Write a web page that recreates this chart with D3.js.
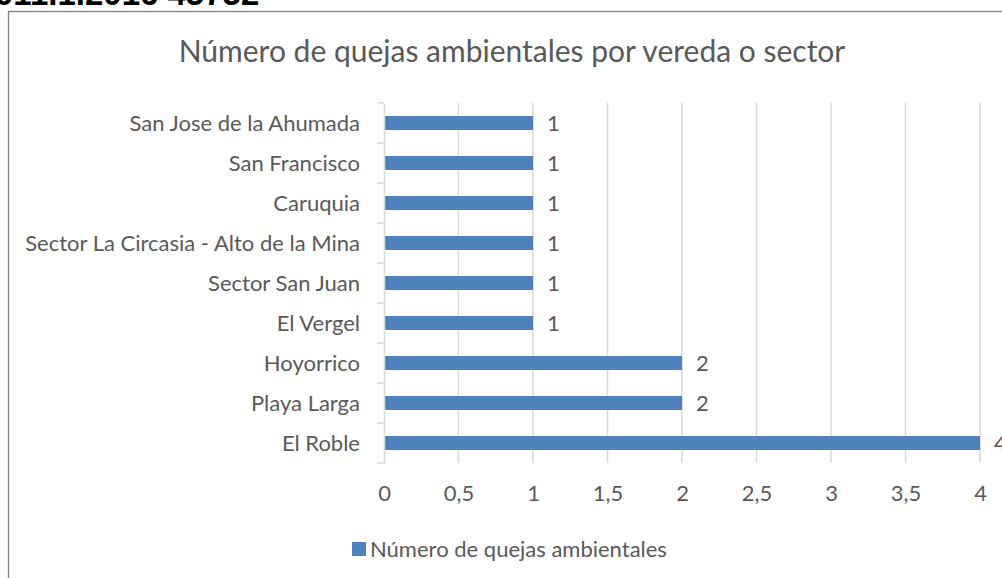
<!DOCTYPE html>
<html>
<head>
<meta charset="utf-8">
<script src="https://cdn.jsdelivr.net/npm/d3@7"></script>
<style>
  body { margin: 0; background: #fff; }
  svg { display: block; }
  text { font-family: Lato, "Open Sans", sans-serif; fill: #595959; }
</style>
</head>
<body>
<svg id="chart" width="1002" height="578"></svg>
<script>
// data (top to bottom)
var categories = ["San Jose de la Ahumada", "San Francisco", "Caruquia",
  "Sector La Circasia - Alto de la Mina", "Sector San Juan", "El Vergel",
  "Hoyorrico", "Playa Larga", "El Roble"];
var values = [1, 1, 1, 1, 1, 1, 2, 2, 4];
var xTicks = [0, 0.5, 1, 1.5, 2, 2.5, 3, 3.5, 4];
var seriesName = "Número de quejas ambientales";
var title = "Número de quejas ambientales por vereda o sector";

var data = categories.map(function (c, i) { return { cat: c, val: values[i] }; });

var svg = d3.select("#chart");
var labelSize = "22px";

// cut-off header from the page above the chart
svg.append("text")
  .attr("x", -5).attr("y", 5)
  .style("font-family", "Arial, 'Liberation Sans', sans-serif")
  .style("font-weight", "bold")
  .style("font-size", "33px")
  .style("fill", "#000")
  .text("011.1.2016 45752");

// chart frame
svg.append("rect")
  .attr("x", 8.5).attr("y", 11.5)
  .attr("width", 1010).attr("height", 600)
  .attr("fill", "#fff")
  .attr("stroke", "#7f7f7f")
  .attr("stroke-width", 1.3);

svg.append("text")
  .attr("x", 512).attr("y", 62)
  .attr("text-anchor", "middle")
  .style("font-size", "30px")
  .text(title);

var plotL = 384, plotR = 980, plotT = 103, plotB = 463;

var x = d3.scaleLinear().domain([0, 4]).range([plotL, plotR]);
var y = d3.scaleBand().domain(categories).range([plotT, plotB]).paddingInner(0.65).paddingOuter(0.325);

// gridlines
svg.append("g").selectAll("line")
  .data(xTicks.slice(1))
  .enter().append("line")
  .attr("x1", function (d) { return x(d); })
  .attr("x2", function (d) { return x(d); })
  .attr("y1", plotT).attr("y2", plotB)
  .attr("stroke", "#d9d9d9")
  .attr("stroke-width", 1.5);

// bars
svg.append("g").selectAll("rect")
  .data(data)
  .enter().append("rect")
  .attr("x", x(0))
  .attr("y", function (d) { return y(d.cat); })
  .attr("width", function (d) { return x(d.val) - x(0); })
  .attr("height", y.bandwidth())
  .attr("fill", "#4f81bd");

// data labels
svg.append("g").selectAll("text")
  .data(data)
  .enter().append("text")
  .attr("x", function (d) { return x(d.val) + 14; })
  .attr("y", function (d) { return y(d.cat) + y.bandwidth() / 2 + 8; })
  .style("font-size", labelSize)
  .text(function (d) { return d.val; });

// category axis
var yAxis = svg.append("g")
  .attr("transform", "translate(" + plotL + ",0)")
  .call(d3.axisLeft(y).tickSize(0).tickPadding(24));
yAxis.select(".domain").attr("stroke", "#d9d9d9").attr("stroke-width", 1.5);
yAxis.selectAll("text").style("font-size", labelSize).attr("fill", "#595959").attr("dy", "0.35em")
  .style("font-family", "Lato, 'Open Sans', sans-serif");

// tick marks between categories
var bounds = d3.range(categories.length + 1).map(function (i) { return plotT + i * y.step(); });
svg.append("g").selectAll("line")
  .data(bounds)
  .enter().append("line")
  .attr("x1", plotL - 7).attr("x2", plotL)
  .attr("y1", function (d) { return d; }).attr("y2", function (d) { return d; })
  .attr("stroke", "#d9d9d9")
  .attr("stroke-width", 1.5);

// value axis labels
var xAxis = svg.append("g")
  .attr("transform", "translate(0," + plotB + ")")
  .call(d3.axisBottom(x).tickValues(xTicks).tickSize(0).tickPadding(22)
    .tickFormat(function (d) { return String(d).replace(".", ","); }));
xAxis.select(".domain").remove();
xAxis.selectAll("text").style("font-size", labelSize).attr("fill", "#595959")
  .style("font-family", "Lato, 'Open Sans', sans-serif");

// legend
svg.append("rect")
  .attr("x", 352).attr("y", 542)
  .attr("width", 14).attr("height", 14)
  .attr("fill", "#4f81bd");
svg.append("text")
  .attr("x", 370).attr("y", 557)
  .style("font-size", labelSize)
  .text(seriesName);
</script>
</body>
</html>
